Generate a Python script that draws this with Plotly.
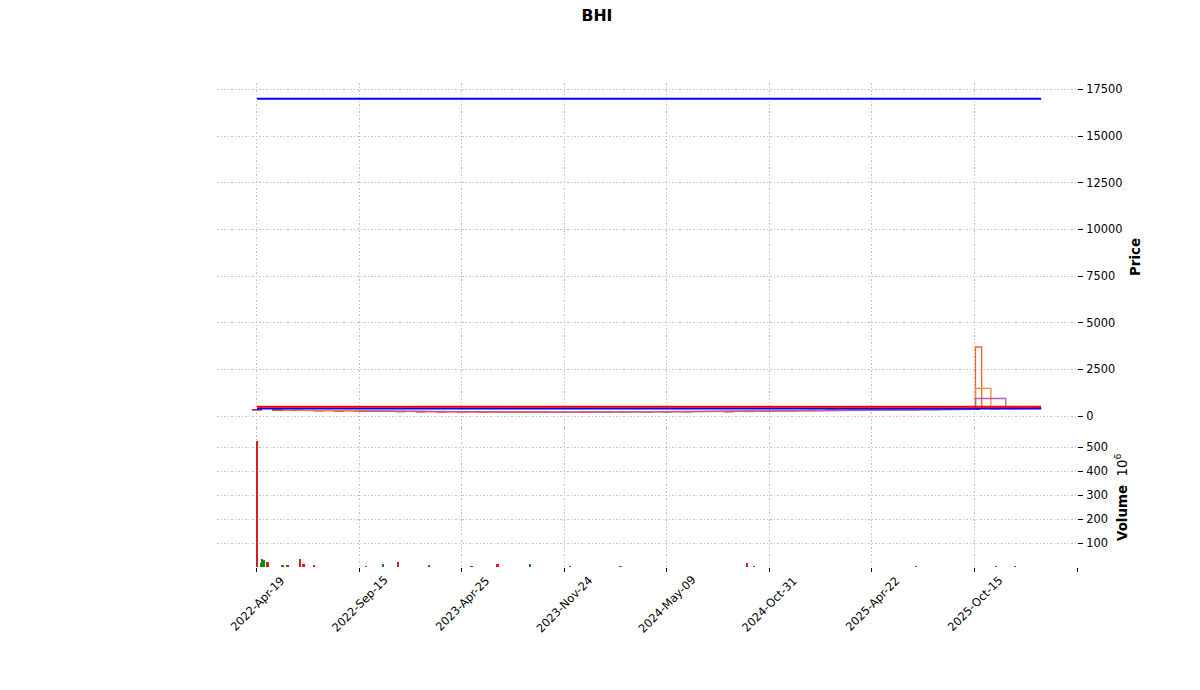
import plotly.graph_objects as go

# ---------------- data ----------------
title = "BHI"
tick_slots = [0, 20, 40, 60, 80, 100, 120, 140, 160]
tick_labels = ["2022-Apr-19", "2022-Sep-15", "2023-Apr-25", "2023-Nov-24",
               "2024-May-09", "2024-Oct-31", "2025-Apr-22", "2025-Oct-15", ""]

candle_x = [0, 4, 8, 12, 16, 20, 24, 28, 32, 36, 40, 44, 48, 52, 56, 60, 64, 68, 72, 76,
            80, 84, 88, 92, 96, 100, 104, 108, 112, 116, 120, 124, 128, 132, 136, 140, 144, 148, 152]
c_open = [340, 328, 310, 296, 280, 264, 250, 240, 234, 229, 225, 219, 215, 211, 209, 204, 207, 211, 216, 222,
          227, 234, 242, 240, 236, 262, 280, 292, 302, 312, 322, 330, 336, 343, 350, 360, 385, 410, 419]
c_high = [348, 332, 314, 300, 284, 268, 254, 244, 238, 232, 228, 222, 218, 214, 211, 208, 212, 217, 222, 228,
          233, 241, 248, 244, 262, 282, 294, 304, 313, 322, 332, 338, 344, 352, 360, 386, 412, 422, 428]
c_low = [322, 306, 292, 278, 260, 248, 238, 232, 226, 222, 218, 212, 208, 206, 202, 200, 204, 208, 214, 219,
         224, 231, 238, 226, 232, 258, 276, 288, 298, 308, 318, 326, 332, 338, 346, 354, 380, 406, 414]
c_close = [330, 312, 298, 282, 266, 252, 242, 236, 230, 226, 221, 216, 212, 210, 206, 205, 209, 214, 219, 224,
           230, 238, 244, 232, 258, 278, 290, 300, 309, 318, 328, 334, 340, 348, 356, 380, 408, 418, 424]

# moving averages (vertices)
ma1_x = [3, 20, 40, 60, 80, 92, 100, 120, 140.2, 140.2, 141.4, 141.4, 153]
ma1_y = [318, 258, 222, 207, 228, 236, 272, 326, 370, 3700, 3700, 410, 424]
ma2_x = [8, 20, 40, 60, 80, 100, 120, 140.2, 140.2, 143.2, 143.2, 153]
ma2_y = [305, 262, 226, 209, 226, 262, 320, 365, 1480, 1480, 405, 420]
ma3_x = [20, 40, 60, 80, 100, 120, 140.2, 140.2, 146.1, 146.1, 153]
ma3_y = [270, 232, 212, 222, 250, 310, 358, 940, 940, 398, 415]

# horizontal lines
hline_vals = [17000, 400, 500]
hline_colors = ["#0000ff", "#0000ff", "#ff0000"]
hline_span = [0, 153]

# volume (millions)
vol_up_x = [0.8, 1.0, 1.4, 5.0, 5.9, 24.6, 33.6, 53.3, 61.1, 97.0, 128.6, 144.3, 147.9]
vol_up_v = [15, 33, 31, 9, 8, 12, 5, 14, 4, 4, 4, 3, 3]
vol_dn_x = [0.1, 2.1, 6.1, 8.4, 9.1, 11.2, 21.3, 27.5, 41.9, 47.0, 71.0, 95.6]
vol_dn_v = [528, 20, 7, 33, 12, 5, 4, 22, 4, 14, 4, 17]

price_ticks = [0, 2500, 5000, 7500, 10000, 12500, 15000, 17500]
vol_ticks = [100, 200, 300, 400, 500]

# ---------------- figure ----------------
UP = "#138a13"
DN = "#d41f1f"
GRID = "#c2c2c2"
FONT = "DejaVu Sans"

# the page body has an 8px margin; work in page pixels and shift
OFF = 8
FW, FH = 1200 - OFF, 690 - OFF

fig = go.Figure()

fig.add_trace(go.Candlestick(
    x=candle_x, open=c_open, high=c_high, low=c_low, close=c_close,
    increasing=dict(line=dict(color=UP, width=1), fillcolor=UP),
    decreasing=dict(line=dict(color=DN, width=1), fillcolor=DN),
    xaxis="x", yaxis="y", showlegend=False, hoverinfo="skip"))

for xs, ys, col in [(ma1_x, ma1_y, "#f26522"), (ma2_x, ma2_y, "#f5853f"), (ma3_x, ma3_y, "#b062a8")]:
    fig.add_trace(go.Scatter(x=xs, y=ys, mode="lines", line=dict(color=col, width=1.3),
                             xaxis="x", yaxis="y", showlegend=False, hoverinfo="skip"))

for v, col in zip(hline_vals, hline_colors):
    fig.add_trace(go.Scatter(x=hline_span, y=[v, v], mode="lines", line=dict(color=col, width=2),
                             xaxis="x", yaxis="y", showlegend=False, hoverinfo="skip"))

fig.add_trace(go.Bar(x=vol_up_x, y=vol_up_v, width=0.35, marker=dict(color=UP, line=dict(width=0)),
                     xaxis="x2", yaxis="y2", showlegend=False, hoverinfo="skip"))
fig.add_trace(go.Bar(x=vol_dn_x, y=vol_dn_v, width=0.35, marker=dict(color=DN, line=dict(width=0)),
                     xaxis="x2", yaxis="y2", showlegend=False, hoverinfo="skip"))

# page-pixel geometry of the plot area
L, R, T, B = 217, 1077, 83, 567
H = B - T
W = R - L
split = (B - 428) / H

grid = dict(showgrid=True, gridcolor=GRID, griddash="1.5px,2px", gridwidth=0.9, zeroline=False, showline=False)
tickfont = dict(family=FONT, size=11.4, color="#000000")

fig.update_layout(
    width=FW, height=FH,
    margin=dict(l=L - OFF, r=1200 - R, t=T - OFF, b=690 - B, pad=0),
    paper_bgcolor="white", plot_bgcolor="white",
    showlegend=False, bargap=0,
    title=dict(text="<b>" + title + "</b>", x=(597 - OFF) / FW, xanchor="center",
               y=1 - (15 - OFF) / FH, yanchor="middle",
               font=dict(family=FONT, size=15.7, color="#000000")),
    xaxis=dict(domain=[0, 1], anchor="y", range=[-7.8, 160], tickvals=tick_slots, showticklabels=False,
               ticks="", rangeslider=dict(visible=False), matches="x2", **grid),
    xaxis2=dict(domain=[0, 1], anchor="y2", range=[-7.8, 160], tickvals=tick_slots,
                ticktext=[" "] * len(tick_slots), ticks="outside", ticklen=4, tickcolor="#000000",
                tickwidth=1, **grid),
    yaxis=dict(domain=[split, 1], anchor="x", side="right", range=[-640, 17840], tickvals=price_ticks,
               tickformat="d", ticks="outside", ticklen=5, tickcolor="#000000", tickwidth=1,
               ticklabelstandoff=1, tickfont=tickfont, **grid),
    yaxis2=dict(domain=[0, split], anchor="x2", side="right", range=[0, 581], tickvals=vol_ticks,
                tickformat="d", ticks="outside", ticklen=5, tickcolor="#000000", tickwidth=1,
                ticklabelstandoff=1, tickfont=tickfont, **grid),
)

annotations = []
for s, lab in zip(tick_slots, tick_labels):
    if not lab:
        continue
    annotations.append(dict(x=s, y=(B - 603.5) / H, xref="x2", yref="paper", text=lab, showarrow=False,
                            textangle=-45, xanchor="center", yanchor="middle",
                            font=tickfont))
annotations.append(dict(x=(1135 - L) / W, y=(B - 257) / H, xref="paper", yref="paper", text="<b>Price</b>",
                        showarrow=False, textangle=-90, xanchor="center", yanchor="middle",
                        font=dict(family=FONT, size=13.4, color="#000000")))
annotations.append(dict(x=(1121 - L) / W, y=(B - 497) / H, xref="paper", yref="paper",
                        text="<b>Volume</b>  10<sup>6</sup>",
                        showarrow=False, textangle=-90, xanchor="center", yanchor="middle",
                        font=dict(family=FONT, size=13.4, color="#000000")))
fig.update_layout(annotations=annotations)

fig.write_html("out.html")
